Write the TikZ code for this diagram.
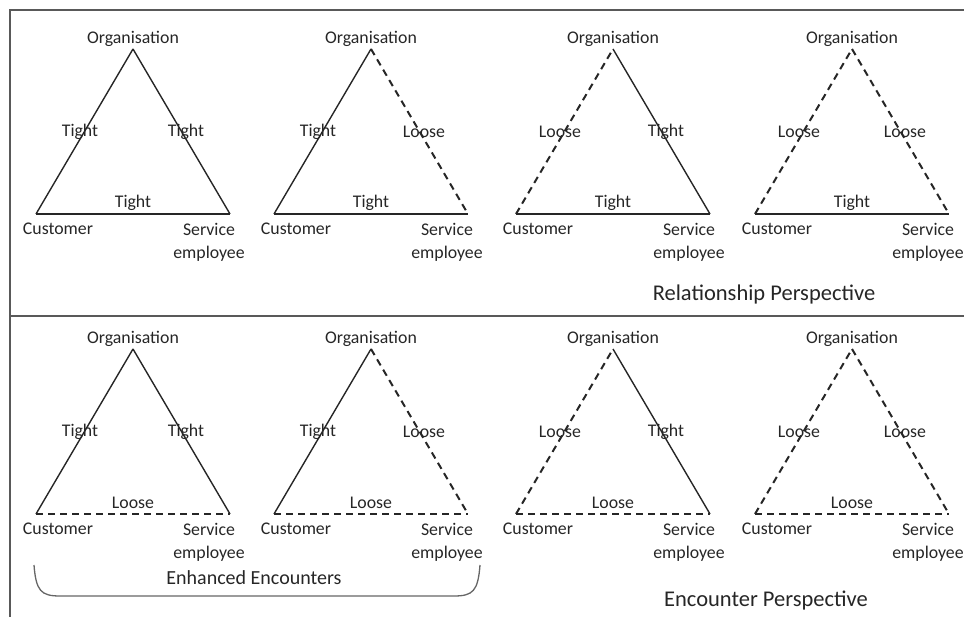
\documentclass[tikz,border=0pt]{standalone}
\usepackage{fontspec}
\setmainfont{Carlito}
\begin{document}
\begin{tikzpicture}[x=1pt,y=-1pt,
  tightedge/.style={line width=1.4pt, black!85},
  looseedge/.style={line width=2pt, black!85, dash pattern=on 7pt off 5pt},
  lbl/.style={inner sep=0pt, text=black!85, font=\fontsize{17.8}{23.5}\selectfont},
  title/.style={inner sep=0pt, text=black!85, font=\fontsize{22.5}{27}\selectfont},
  frame/.style={line width=2.4pt, black!65},
  bracket/.style={line width=1.3pt, black!60}]
\useasboundingbox (0,0) rectangle (964,617);

% #1 name, #2/#3 apex, #4/#5/#6 styles of the left, right and base sides,
% #7/#8/#9 labels of the left, right and base sides
\newcommand\triad[9]{%
  \coordinate (#1o) at (#2,#3);
  \coordinate (#1c) at (#2-97,#3+165);
  \coordinate (#1s) at (#2+97,#3+165);
  \draw[#4] (#1c) -- (#1o);
  \draw[#5] (#1o) -- (#1s);
  \draw[#6] (#1c) -- (#1s);
  \node[lbl] (#1org) at (#2,#3-10) {Organisation};
  \node[lbl] (#1l) at (#2-53,#3+83) {#7};
  \node[lbl] (#1r) at (#2+53,#3+83) {#8};
  \node[lbl, anchor=base] (#1b) at (#2,#3+159) {#9};
  \node[lbl] (#1cust) at (#2-75,#3+180) {Customer};
  \node[lbl, align=center, anchor=north] (#1serv) at (#2+76,#3+174) {Service\\employee};
}

% frame
\draw[frame] (964,10) -- (10,10) -- (10,617);
\draw[frame] (10,316) -- (964,316);

% relationship perspective
\triad{ra}{133}{49}{tightedge}{tightedge}{tightedge}{Tight}{Tight}{Tight}
\triad{rb}{371}{49}{tightedge}{looseedge}{tightedge}{Tight}{Loose}{Tight}
\triad{rc}{613}{49}{looseedge}{tightedge}{tightedge}{Loose}{Tight}{Tight}
\triad{rd}{852}{49}{looseedge}{looseedge}{tightedge}{Loose}{Loose}{Tight}
\node[title] (relp) at (764,295) {Relationship Perspective};

% encounter perspective
\triad{ea}{133}{349}{tightedge}{tightedge}{looseedge}{Tight}{Tight}{Loose}
\triad{eb}{371}{349}{tightedge}{looseedge}{looseedge}{Tight}{Loose}{Loose}
\triad{ec}{613}{349}{looseedge}{tightedge}{looseedge}{Loose}{Tight}{Loose}
\triad{ed}{852}{349}{looseedge}{looseedge}{looseedge}{Loose}{Loose}{Loose}
\node[title] (encp) at (766,601) {Encounter Perspective};

% bracket under the first two encounter triangles
\coordinate (brl) at (34,565);
\coordinate (brr) at (480,565);
\draw[bracket] (brl) .. controls (36,591) and (41,596) .. (60,596)
  -- (454,596) .. controls (473,596) and (478,591) .. (brr);
\node[lbl, font=\fontsize{20}{24}\selectfont] (enh) at (254,578) {Enhanced Encounters};
\end{tikzpicture}
\end{document}
